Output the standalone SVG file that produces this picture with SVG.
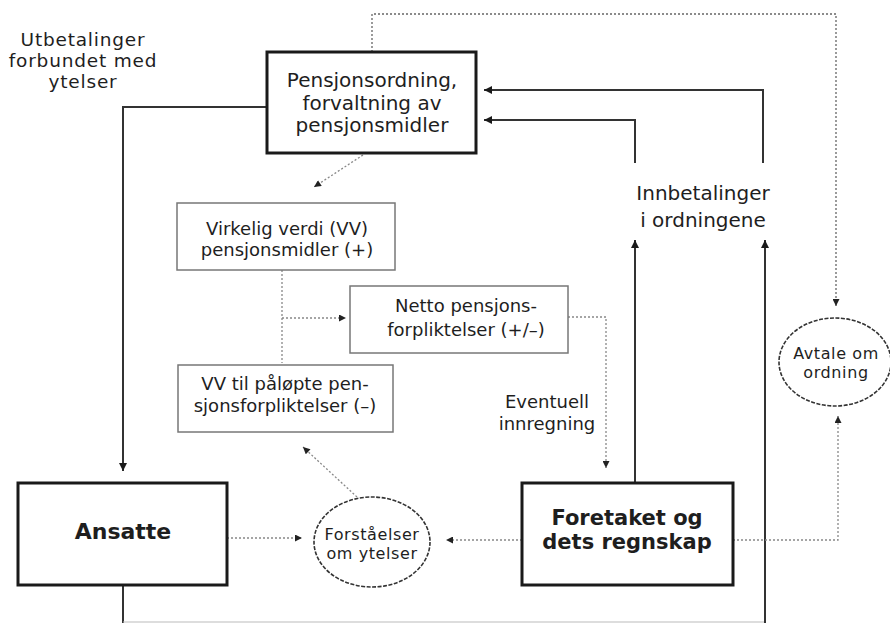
<svg xmlns="http://www.w3.org/2000/svg" width="890" height="623" viewBox="0 0 890 623">
<style>
text{font-family:"DejaVu Sans","Liberation Sans",sans-serif;fill:#1e1e1e;text-anchor:middle}
.big{font-size:20px}
.lab{font-size:18.5px;letter-spacing:0.8px}
.mid{font-size:18px}
.sm{font-size:16px;letter-spacing:0.6px}
.bold{font-size:21px;font-weight:bold}
.main{fill:#fff;stroke:#1a1a1a;stroke-width:3}
.sub{fill:#fff;stroke:#777;stroke-width:1.5}
.ell{fill:#fff;stroke:#333;stroke-width:1.6;stroke-dasharray:4 1.5}
.solid{fill:none;stroke:#333;stroke-width:2}
.faint{fill:none;stroke:#bbb;stroke-width:1.2}
.dot{fill:none;stroke:#888;stroke-width:1.3;stroke-dasharray:2 2}
.dotd{fill:none;stroke:#666;stroke-width:1.3;stroke-dasharray:2 2}
</style>
<defs>
<marker id="ah" viewBox="0 0 10 10" refX="10" refY="5" markerWidth="10" markerHeight="8" markerUnits="userSpaceOnUse" orient="auto">
<path d="M0,0 L10,5 L0,10 z" fill="#1a1a1a"/>
</marker>
<marker id="ahs" viewBox="0 0 10 10" refX="10" refY="5" markerWidth="8" markerHeight="7" markerUnits="userSpaceOnUse" orient="auto">
<path d="M0,0 L10,5 L0,10 z" fill="#222"/>
</marker>
</defs>

<g id="connectors">
<path class="solid" d="M267,107 H123 V471" marker-end="url(#ah)"/>
<path class="solid" d="M763,163 V90 H484" marker-end="url(#ah)"/>
<path class="solid" d="M635,163 V120 H484" marker-end="url(#ah)"/>
<path class="solid" d="M635,483 V240" marker-end="url(#ah)"/>
<path class="solid" d="M123,585 V623"/>
<path class="faint" d="M123,622 H765"/>
<path class="solid" d="M765,623 V240" marker-end="url(#ah)"/>
<path class="dotd" d="M372,52 V14 H836 V306" marker-end="url(#ahs)"/>
<path class="dot" d="M733,540 H838 V416" marker-end="url(#ahs)"/>
<path class="dot" d="M522,540 H446" marker-end="url(#ahs)"/>
<path class="dot" d="M227,538 H302" marker-end="url(#ahs)"/>
<path class="dot" d="M357,497 L303,447" marker-end="url(#ahs)"/>
<path class="dot" d="M363,155 L314,187" marker-end="url(#ahs)"/>
<path class="dot" d="M282,270 V363"/>
<path class="dot" d="M282,318 H346" marker-end="url(#ahs)"/>
<path class="dot" d="M568,317 H606 V468" marker-end="url(#ahs)"/>
</g>

<g id="label-utbetalinger">
<text class="lab" x="83" y="46">Utbetalinger</text>
<text class="lab" x="83" y="67">forbundet med</text>
<text class="lab" x="83" y="88">ytelser</text>
</g>

<g id="label-innbetalinger">
<text class="big" x="703" y="200">Innbetalinger</text>
<text class="big" x="703" y="227">i ordningene</text>
</g>

<g id="label-eventuell">
<text class="mid" x="547" y="408">Eventuell</text>
<text class="mid" x="547" y="430">innregning</text>
</g>

<g id="pensjonsordning">
<rect class="main" x="267" y="52" width="209" height="101"/>
<text class="big" x="372" y="87">Pensjonsordning,</text>
<text class="big" x="372" y="110">forvaltning av</text>
<text class="big" x="372" y="132">pensjonsmidler</text>
</g>

<g id="virkelig-verdi">
<rect class="sub" x="177" y="203" width="218" height="67"/>
<text class="mid" x="287" y="235">Virkelig verdi (VV)</text>
<text class="mid" x="287" y="256">pensjonsmidler (+)</text>
</g>

<g id="netto">
<rect class="sub" x="350" y="286" width="218" height="67"/>
<text class="mid" x="466" y="312">Netto pensjons-</text>
<text class="mid" x="466" y="336">forpliktelser (+/–)</text>
</g>

<g id="vv-til">
<rect class="sub" x="178" y="365" width="215" height="67"/>
<text class="mid" x="285" y="390">VV til påløpte pen-</text>
<text class="mid" x="285" y="412">sjonsforpliktelser (–)</text>
</g>

<g id="ansatte">
<rect class="main" x="18" y="483" width="209" height="102"/>
<text class="bold" x="123" y="539" style="font-size:22px">Ansatte</text>
</g>

<g id="forstaelser">
<ellipse class="ell" cx="372" cy="542" rx="58" ry="45"/>
<text class="sm" x="372" y="540">Forståelser</text>
<text class="sm" x="372" y="559">om ytelser</text>
</g>

<g id="foretaket">
<rect class="main" x="522" y="483" width="211" height="102"/>
<text class="bold" x="627" y="525">Foretaket og</text>
<text class="bold" x="627" y="549">dets regnskap</text>
</g>

<g id="avtale">
<ellipse class="ell" cx="835" cy="362" rx="56" ry="44"/>
<text class="sm" x="836" y="359">Avtale om</text>
<text class="sm" x="836" y="378">ordning</text>
</g>
</svg>
